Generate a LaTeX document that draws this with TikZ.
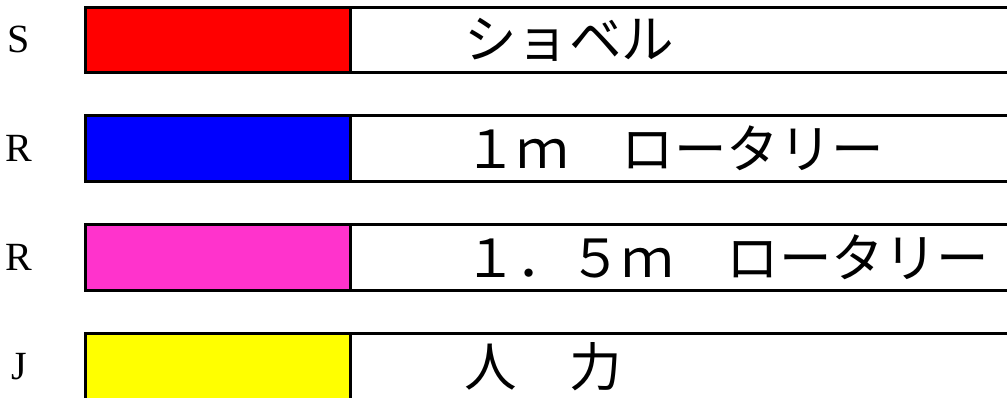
\documentclass[tikz,border=0pt]{standalone}
\usepackage{fontspec}
\setmainfont{Liberation Serif}
\newfontfamily\jpfont{Noto Sans CJK JP}
\usepackage{xcolor}
\definecolor{shovelred}{HTML}{FF0000}
\definecolor{rotaryblue}{HTML}{0000FF}
\definecolor{rotarypink}{HTML}{FF33CC}
\definecolor{manualyellow}{HTML}{FFFF00}

\begin{document}
\begin{tikzpicture}[x=1pt,y=-1pt,
  rowbox/.style={draw, line width=3pt, minimum width=935pt, minimum height=65.5pt, inner sep=0pt, outer sep=0pt},
  swatch/.style={rowbox, minimum width=265.5pt},
  tag/.style={font=\fontsize{40}{40}\selectfont, anchor=base, inner sep=0pt},
  jplabel/.style={font=\jpfont\fontsize{52.5}{52.5}\selectfont, anchor=west, inner sep=0pt}]
\useasboundingbox (0,0) rectangle (1007,398);
\clip (0,0) rectangle (1007,398);
%
\node[rowbox] (rowS) at (552.5,40) {};
\node[swatch, fill=shovelred] (swS) at (217.75,40) {};
\node[tag] (tagS) at (19,53) {S};
\node[jplabel] (txtS) at (464,40) {ショベル};
%
\node[rowbox] (rowR) at (552.5,148.5) {};
\node[swatch, fill=rotaryblue] (swR) at (217.75,148.5) {};
\node[tag] (tagR) at (19,161.5) {R};
\node[jplabel] (txtR) at (464,148.5) {１ｍ　ロータリー};
%
\node[rowbox] (rowRR) at (552.5,257.5) {};
\node[swatch, fill=rotarypink] (swRR) at (217.75,257.5) {};
\node[tag] (tagRR) at (19,270.5) {R};
\node[jplabel] (txtRR) at (464,257.5) {１．５ｍ　ロータリー};
%
\node[rowbox] (rowJ) at (552.5,366.5) {};
\node[swatch, fill=manualyellow] (swJ) at (217.75,366.5) {};
\node[tag] (tagJ) at (19,379.5) {J};
\node[jplabel] (txtJ) at (464,366.5) {人　力};
\end{tikzpicture}
\end{document}
